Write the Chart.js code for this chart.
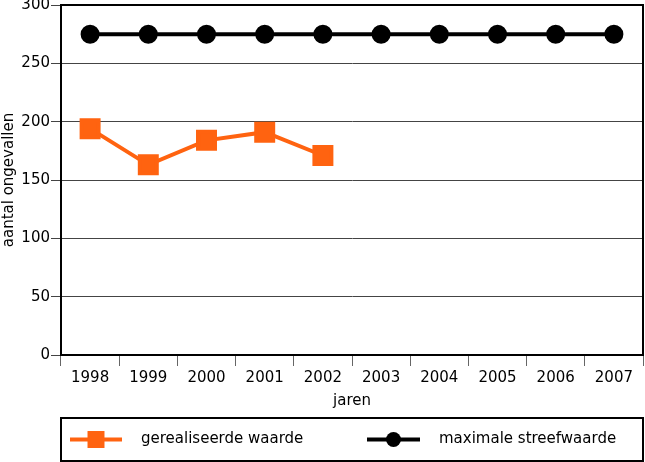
<!DOCTYPE html>
<html>
<head>
<meta charset="utf-8">
<script src="https://cdn.jsdelivr.net/npm/chart.js@4.4.1/dist/chart.umd.min.js"></script>
<style>
  html, body { margin: 0; padding: 0; background: #fff; }
  #wrap { width: 645px; height: 462px; }
</style>
</head>
<body>
<div id="wrap"><canvas id="chart" width="645" height="462"></canvas></div>
<script>
// data
const years = ['1998', '1999', '2000', '2001', '2002', '2003', '2004', '2005', '2006', '2007'];
const gerealiseerd = [194, 163, 184, 191, 171, null, null, null, null, null];
const streefwaarde = [275, 275, 275, 275, 275, 275, 275, 275, 275, 275];
const yTicks = [0, 50, 100, 150, 200, 250, 300];

const FONT = 'DejaVu Sans';
const ORANGE = '#ff6310';

// frame round the plot area + boxed legend at the bottom
const framePlugin = {
    id: 'frame',
    afterDraw(chart) {
        const ctx = chart.ctx;
        const a = chart.chartArea;
        ctx.save();
        ctx.strokeStyle = '#000';
        ctx.lineWidth = 2;
        ctx.strokeRect(a.left, a.top, a.right - a.left, a.bottom - a.top);

        // legend box
        const bx = a.left, by = 418, bw = a.right - a.left, bh = 43;
        ctx.strokeRect(bx, by, bw, bh);

        const cy = by + bh / 2;
        const items = [
            { ds: chart.data.datasets[0], x0: 70, x1: 122, tx: 141 },
            { ds: chart.data.datasets[1], x0: 367, x1: 420, tx: 439 }
        ];
        items.forEach(it => {
            ctx.strokeStyle = it.ds.borderColor;
            ctx.lineWidth = it.ds.borderWidth;
            ctx.beginPath();
            ctx.moveTo(it.x0, cy);
            ctx.lineTo(it.x1, cy);
            ctx.stroke();
            const mx = (it.x0 + it.x1) / 2;
            ctx.fillStyle = it.ds.pointBackgroundColor;
            if (it.ds.pointStyle === 'rect') {
                const s = it.ds.pointRadius * Math.SQRT1_2;
                ctx.fillRect(mx - s, cy - s, s * 2, s * 2);
            } else {
                ctx.beginPath();
                ctx.arc(mx, cy, it.ds.pointRadius, 0, Math.PI * 2);
                ctx.fill();
            }
            ctx.fillStyle = '#000';
            ctx.font = '15px "' + FONT + '"';
            ctx.textBaseline = 'middle';
            ctx.textAlign = 'left';
            ctx.fillText(it.ds.label, it.tx, cy);
        });
        ctx.restore();
    }
};

new Chart(document.getElementById('chart').getContext('2d'), {
    type: 'line',
    data: {
        labels: years,
        datasets: [{
            label: 'gerealiseerde waarde',
            data: gerealiseerd,
            borderColor: ORANGE,
            backgroundColor: ORANGE,
            pointBackgroundColor: ORANGE,
            pointBorderColor: ORANGE,
            borderWidth: 4,
            pointStyle: 'rect',
            pointRadius: 12,
            pointHoverRadius: 12,
            tension: 0,
            spanGaps: false
        }, {
            label: 'maximale streefwaarde',
            data: streefwaarde,
            borderColor: '#000',
            backgroundColor: '#000',
            pointBackgroundColor: '#000',
            pointBorderColor: '#000',
            borderWidth: 4,
            pointStyle: 'circle',
            pointRadius: 7.5,
            pointHoverRadius: 7.5,
            tension: 0
        }]
    },
    options: {
        responsive: false,
        animation: false,
        layout: { autoPadding: false, padding: { top: 5, right: 2, left: 0, bottom: 50 } },
        plugins: {
            legend: { display: false },
            tooltip: { enabled: false }
        },
        scales: {
            x: {
                offset: true,
                grid: {
                    offset: true,
                    drawOnChartArea: false,
                    drawTicks: true,
                    tickLength: 11,
                    color: '#666',
                    lineWidth: 1
                },
                border: { display: true, color: '#000', width: 2 },
                ticks: {
                    color: '#000',
                    font: { family: FONT, size: 15 },
                    padding: 3,
                    maxRotation: 0,
                    autoSkip: false
                },
                title: {
                    display: true,
                    text: 'jaren',
                    color: '#000',
                    font: { family: FONT, size: 15 },
                    padding: { top: 0, bottom: 2 }
                },
                afterFit(scale) {
                    scale.height = 57;
                    scale.paddingLeft = 0;
                    scale.paddingRight = 0;
                }
            },
            y: {
                min: 0,
                max: 300,
                afterBuildTicks(scale) { scale.ticks = yTicks.map(v => ({ value: v })); },
                grid: {
                    color: '#444',
                    lineWidth: 1,
                    drawTicks: true,
                    tickLength: 10
                },
                border: { display: true, color: '#000', width: 2 },
                ticks: {
                    color: '#000',
                    font: { family: FONT, size: 15 },
                    padding: 1
                },
                title: {
                    display: true,
                    text: 'aantal ongevallen',
                    color: '#000',
                    font: { family: FONT, size: 15 },
                    padding: { top: 0, bottom: 0 }
                },
                afterFit(scale) {
                    scale.width = 61;
                    scale.paddingTop = 0;
                    scale.paddingBottom = 0;
                }
            }
        }
    },
    plugins: [framePlugin]
});
</script>
</body>
</html>
